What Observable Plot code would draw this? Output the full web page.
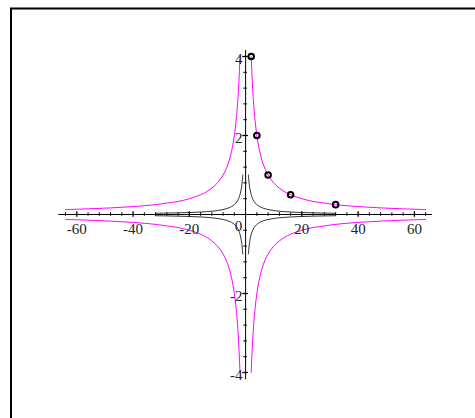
<!DOCTYPE html>
<html>
<head>
<meta charset="utf-8">
<script src="https://cdn.jsdelivr.net/npm/d3@7"></script>
<script src="https://cdn.jsdelivr.net/npm/@observablehq/plot@0.6"></script>
<style>
  html, body { margin: 0; padding: 0; background: #fff; overflow: hidden; }
  #chart { position: relative; width: 475px; height: 418px; }
</style>
</head>
<body>
<div id="chart"></div>
<script>
// Outer hyperbola branch (magenta), first quadrant
const outerX = [2, 2.25, 2.5, 2.75, 3, 3.5, 4, 4.5, 5, 6, 7, 8, 10, 12, 14, 16, 20, 24, 28, 32, 40, 48, 56, 64];
const outerY = [4, 3.56, 3.2, 2.91, 2.67, 2.29, 2, 1.78, 1.6, 1.33, 1.14, 1, 0.8, 0.67, 0.57, 0.5, 0.4, 0.33, 0.29, 0.25, 0.2, 0.167, 0.143, 0.125];
// Inner hyperbola branch (black), first quadrant
const innerX = [1, 1.125, 1.25, 1.5, 1.75, 2, 2.5, 3, 4, 5, 6, 8, 10, 12, 16, 20, 24, 28, 32];
const innerY = [1, 0.89, 0.8, 0.667, 0.571, 0.5, 0.4, 0.333, 0.25, 0.2, 0.167, 0.125, 0.1, 0.083, 0.0625, 0.05, 0.042, 0.036, 0.031];
// Marked points
const ptX = [2, 4, 8, 16, 32];
const ptY = [4, 2, 1, 0.5, 0.25];
// Axis ticks and labels
const xMajor = [-60, -40, -20, 20, 40, 60];
const xMinor = [-64, -56, -52, -48, -44, -36, -32, -28, -24, -16, -12, -8, -4, 4, 8, 12, 16, 24, 28, 32, 36, 44, 48, 52, 56, 64];
const yMajor = [-4, -2, 2, 4];
const yMinor = [-3.6, -3.2, -2.8, -2.4, -1.6, -1.2, -0.8, -0.4, 0.4, 0.8, 1.2, 1.6, 2.4, 2.8, 3.2, 3.6];
const xAxisExtent = [-66.4, 66.4];
const yAxisExtent = [-4.18, 4.15];

const quadrants = [[1, 1], [-1, 1], [1, -1], [-1, -1]];
function branch(xs, ys, sx, sy, q) {
  return xs.map((x, i) => ({x: sx * x, y: sy * ys[i], q}));
}
const outer = quadrants.flatMap(([sx, sy], k) => branch(outerX, outerY, sx, sy, k));
const inner = quadrants.flatMap(([sx, sy], k) => branch(innerX, innerY, sx, sy, k));
const pts = ptX.map((x, i) => ({x, y: ptY[i]}));

const font = "'Liberation Serif', 'DejaVu Serif', serif";

const plot = Plot.plot({
  width: 475,
  height: 418,
  margin: 0,
  x: {domain: [-60, 60], range: [76.3, 413.9], axis: null},
  y: {domain: [-4, 4], range: [372, 56], axis: null},
  style: {fontFamily: font, background: "transparent"},
  marks: [
    // axes lines
    Plot.ruleY([0], {x1: xAxisExtent[0], x2: xAxisExtent[1], stroke: "black", strokeWidth: 1}),
    Plot.ruleX([0], {y1: yAxisExtent[0], y2: yAxisExtent[1], stroke: "black", strokeWidth: 1}),
    // x ticks
    Plot.ruleX(xMinor, {y1: -0.045, y2: 0.045, stroke: "black", strokeWidth: 1}),
    Plot.ruleX(xMajor, {y1: -0.07, y2: 0.07, stroke: "black", strokeWidth: 1.3}),
    // y ticks
    Plot.ruleY(yMinor, {x1: -0.65, x2: 0.65, stroke: "black", strokeWidth: 1}),
    Plot.ruleY(yMajor, {x1: -1.0, x2: 1.0, stroke: "black", strokeWidth: 1.3}),
    // curves
    Plot.line(outer, {x: "x", y: "y", z: "q", stroke: "#ff00ff", strokeWidth: 1, curve: "catmull-rom"}),
    Plot.line(inner, {x: "x", y: "y", z: "q", stroke: "black", strokeWidth: 0.8, curve: "catmull-rom"}),
    // points
    Plot.dot(pts, {x: "x", y: "y", r: 2.8, stroke: "black", strokeWidth: 2, fill: "none"}),
    // labels
    Plot.text(xMajor, {x: d => d, y: 0, text: d => String(d), dy: 15, fontSize: 15, fill: "#222"}),
    Plot.text([0], {x: 0, y: 0, text: d => String(d), dx: -7, dy: 12, fontSize: 15, fill: "#222"}),
    Plot.text(yMajor, {x: 0, y: d => d, text: d => String(d), textAnchor: "end", dx: -3, dy: 3, fontSize: 15, fill: "#222"})
  ]
});

const svg = d3.select(plot);
svg.insert("rect", ":first-child")
  .attr("x", 11).attr("y", 8.5).attr("width", 480).attr("height", 430)
  .attr("fill", "none").attr("stroke", "black").attr("stroke-width", 2);

document.getElementById("chart").appendChild(plot);
</script>
</body>
</html>
